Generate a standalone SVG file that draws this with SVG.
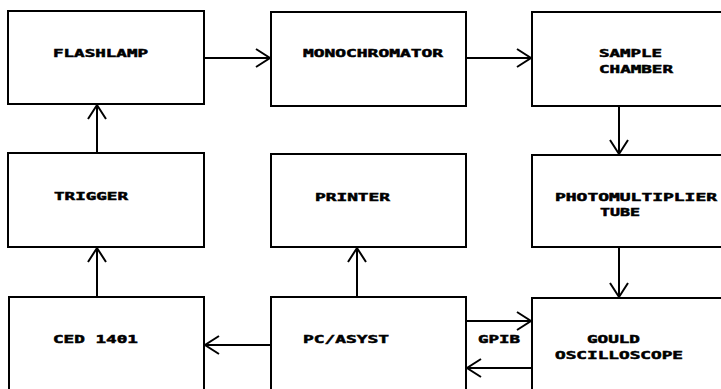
<svg xmlns="http://www.w3.org/2000/svg" width="721" height="389" viewBox="0 0 721 389">
<style>
.box{fill:#fff;stroke:#000;stroke-width:2}
.t{font-family:"DejaVu Sans Mono","Liberation Mono",monospace;font-weight:bold;font-size:11px;fill:#000;stroke:#000;stroke-width:0.5}
.c{fill:none;stroke:#000;stroke-width:2}
</style>
<defs>
<marker id="ah" markerUnits="userSpaceOnUse" markerWidth="20" markerHeight="22" viewBox="-16 -11 18 22" refX="0" refY="0" orient="auto">
<path d="M-14,-9 L0,0 L-14,9" fill="none" stroke="#000" stroke-width="2"/>
</marker>
</defs>
<rect width="721" height="389" fill="#fff"/>
<g id="connectors">
<line class="c" x1="204" y1="58" x2="270" y2="58" marker-end="url(#ah)"/>
<line class="c" x1="466" y1="58" x2="531" y2="58" marker-end="url(#ah)"/>
<line class="c" x1="619" y1="106" x2="619" y2="154" marker-end="url(#ah)"/>
<line class="c" x1="619" y1="247" x2="619" y2="297" marker-end="url(#ah)"/>
<line class="c" x1="97" y1="153" x2="97" y2="105" marker-end="url(#ah)"/>
<line class="c" x1="97" y1="297" x2="97" y2="248" marker-end="url(#ah)"/>
<line class="c" x1="357" y1="297" x2="357" y2="248" marker-end="url(#ah)"/>
<line class="c" x1="271" y1="345" x2="205" y2="345" marker-end="url(#ah)"/>
<line class="c" x1="466" y1="321" x2="531" y2="321" marker-end="url(#ah)"/>
<line class="c" x1="532" y1="368" x2="467" y2="368" marker-end="url(#ah)"/>
</g>
<g id="flashlamp"><rect class="box" x="8" y="11" width="196" height="93"/><text class="t" transform="translate(53,57) scale(1.6,1)" textLength="59.4" lengthAdjust="spacingAndGlyphs">FLASHLAMP</text></g>
<g id="monochromator"><rect class="box" x="271" y="12" width="195" height="94"/><text class="t" transform="translate(303,57) scale(1.6,1)" textLength="87.5" lengthAdjust="spacingAndGlyphs">MONOCHROMATOR</text></g>
<g id="sample"><rect class="box" x="532" y="12" width="200" height="94"/><text class="t" transform="translate(599,57) scale(1.6,1)" textLength="39.4" lengthAdjust="spacingAndGlyphs">SAMPLE</text><text class="t" transform="translate(599,73) scale(1.6,1)" textLength="46.25" lengthAdjust="spacingAndGlyphs">CHAMBER</text></g>
<g id="trigger"><rect class="box" x="8" y="153" width="196" height="94"/><text class="t" transform="translate(54,200) scale(1.6,1)" textLength="46.25" lengthAdjust="spacingAndGlyphs">TRIGGER</text></g>
<g id="printer"><rect class="box" x="271" y="154" width="195" height="93"/><text class="t" transform="translate(315,201) scale(1.6,1)" textLength="46.9" lengthAdjust="spacingAndGlyphs">PRINTER</text></g>
<g id="pmt"><rect class="box" x="532" y="155" width="200" height="92"/><text class="t" transform="translate(555,201) scale(1.6,1)" textLength="101.25" lengthAdjust="spacingAndGlyphs">PHOTOMULTIPLIER</text><text class="t" transform="translate(600,216) scale(1.6,1)" textLength="25" lengthAdjust="spacingAndGlyphs">TUBE</text></g>
<g id="ced"><rect class="box" x="9" y="297" width="195" height="100"/><text class="t" transform="translate(53,343) scale(1.6,1)" textLength="53.1" lengthAdjust="spacingAndGlyphs">CED 1401</text></g>
<g id="pc"><rect class="box" x="271" y="297" width="195" height="100"/><text class="t" transform="translate(303,343) scale(1.6,1)" textLength="53.75" lengthAdjust="spacingAndGlyphs">PC/ASYST</text></g>
<g id="gpib"><text class="t" transform="translate(478,343) scale(1.6,1)" textLength="26.25" lengthAdjust="spacingAndGlyphs">GPIB</text></g>
<g id="gould"><rect class="box" x="532" y="298" width="200" height="100"/><text class="t" transform="translate(587,343) scale(1.6,1)" textLength="33.1" lengthAdjust="spacingAndGlyphs">GOULD</text><text class="t" transform="translate(555,359) scale(1.6,1)" textLength="80" lengthAdjust="spacingAndGlyphs">OSCILLOSCOPE</text></g>
</svg>
